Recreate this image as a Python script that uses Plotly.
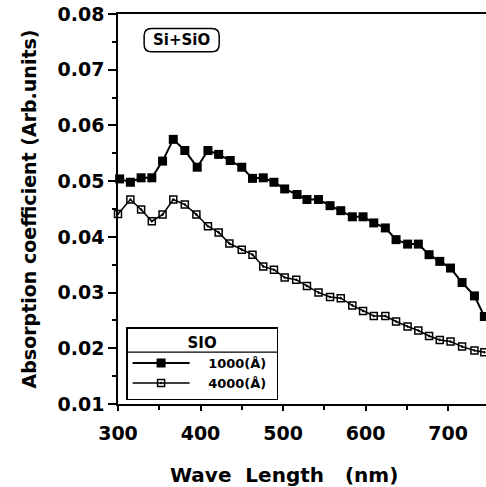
import plotly.graph_objects as go

# ---- data ----
wl_1000 = [302, 315, 328, 341, 354, 367, 381, 396, 409, 422, 436, 450, 463, 476, 489,
           502, 517, 529, 543, 557, 570, 584, 597, 610, 624, 637, 651, 664, 677, 690,
           703, 717, 732, 744]
abs_1000 = [0.0504, 0.0498, 0.0506, 0.0506, 0.0536, 0.0575, 0.0555, 0.0525, 0.0555, 0.0548,
            0.0537, 0.0525, 0.0505, 0.0506, 0.0498, 0.0486, 0.0476, 0.0467, 0.0467, 0.0456,
            0.0447, 0.0436, 0.0436, 0.0425, 0.0416, 0.0395, 0.0387, 0.0387, 0.0368, 0.0356,
            0.0344, 0.0318, 0.0294, 0.0257]

wl_4000 = [300, 315, 328, 341, 354, 367, 381, 395, 409, 422, 435, 450, 463, 476, 489,
           502, 516, 529, 543, 557, 570, 584, 597, 610, 624, 637, 651, 664, 677, 690,
           703, 717, 732, 744]
abs_4000 = [0.0441, 0.0467, 0.0449, 0.0428, 0.0440, 0.0467, 0.0458, 0.0440, 0.0419, 0.0408,
            0.0388, 0.0377, 0.0368, 0.0347, 0.0341, 0.0327, 0.0323, 0.0312, 0.0300, 0.0292,
            0.0290, 0.0277, 0.0267, 0.0258, 0.0258, 0.0248, 0.0239, 0.0232, 0.0222, 0.0215,
            0.0212, 0.0203, 0.0196, 0.0193]

series_names = ["1000(Å)", "4000(Å)"]
legend_title = "SIO"
sample_label = "Si+SiO"
x_title = "Wave\u00a0\u00a0Length\u00a0\u00a0\u00a0(nm)"
y_title = "Absorption coefficient (Arb.units)"
x_ticks = [300, 400, 500, 600, 700]

FONT = "DejaVu Sans"
PAD = "\u00a0\u00a0\u00a0"

fig = go.Figure()
fig.add_trace(go.Scatter(
    x=wl_1000, y=abs_1000, name=PAD + series_names[0] + "\u00a0", mode="lines+markers",
    line=dict(color="black", width=2),
    marker=dict(symbol="square", size=9, color="black"),
    cliponaxis=False,
))
fig.add_trace(go.Scatter(
    x=wl_4000, y=abs_4000, name=PAD + series_names[1] + "\u00a0", mode="lines+markers",
    line=dict(color="black", width=1.5),
    marker=dict(symbol="square-open-dot", size=7, color="black",
                line=dict(width=1.5, color="black")),
    cliponaxis=False,
))

# rounded box around sample label (paper coords)
x0, x1, y0, y1, r = 0.071, 0.275, 0.903, 0.963, 0.02
ry = r * 368 / 390
path = (f"M {x0+r},{y0} L {x1-r},{y0} Q {x1},{y0} {x1},{y0+ry} L {x1},{y1-ry} "
        f"Q {x1},{y1} {x1-r},{y1} L {x0+r},{y1} Q {x0},{y1} {x0},{y1-ry} "
        f"L {x0},{y0+ry} Q {x0},{y0} {x0+r},{y0} Z")
fig.add_shape(type="path", path=path, xref="paper", yref="paper",
              line=dict(color="black", width=1.5))
fig.add_annotation(x=(x0 + x1) / 2, y=(y0 + y1) / 2, xref="paper", yref="paper",
                   xanchor="center", yanchor="middle",
                   text=sample_label, showarrow=False,
                   font=dict(family=FONT, size=15, color="black", weight="bold"))

# x axis title placed as annotation
fig.add_annotation(x=0.452, y=-0.182, xref="paper", yref="paper",
                   xanchor="center", yanchor="middle", showarrow=False,
                   text=x_title,
                   font=dict(family=FONT, size=20, color="black", weight="bold"))

# legend title divider
fig.add_shape(type="line", xref="paper", yref="paper",
              x0=0.022, x1=0.432, y0=0.133, y1=0.133,
              line=dict(color="black", width=1.2))

fig.update_layout(
    width=486, height=487,
    margin=dict(l=118, r=0, t=14, b=83),
    paper_bgcolor="white", plot_bgcolor="white",
    font=dict(family=FONT, color="black"),
    showlegend=True,
    legend=dict(
        x=0.022, y=0.197, xanchor="left", yanchor="top",
        bordercolor="black", borderwidth=1.5, bgcolor="rgba(0,0,0,0)",
        title=dict(text=legend_title, side="top center",
                   font=dict(family=FONT, size=15, weight="bold")),
        font=dict(family=FONT, size=13, weight="bold"),
        itemwidth=57, tracegroupgap=0,
    ),
    xaxis=dict(
        range=[300, 746], tickvals=x_ticks,
        showline=True, linecolor="black", linewidth=1.5, mirror=True,
        ticks="outside", ticklen=5, tickcolor="black", tickwidth=1.5,
        minor=dict(dtick=50, ticks="outside", ticklen=4, tickcolor="black"),
        showgrid=False, zeroline=False,
        tickfont=dict(family=FONT, size=19, weight="bold"),
        ticklabelstandoff=6,
        automargin=False,
    ),
    yaxis=dict(
        range=[0.01, 0.08], dtick=0.01, tickformat=".2f",
        showline=True, linecolor="black", linewidth=1.5,
        ticks="outside", ticklen=8, tickcolor="black", tickwidth=1.5,
        minor=dict(dtick=0.005, ticks="outside", ticklen=4, tickcolor="black"),
        showgrid=False, zeroline=False,
        tickfont=dict(family=FONT, size=19, weight="bold"),
        ticklabeloverflow="allow",
        title=dict(text=y_title, standoff=16,
                   font=dict(family=FONT, size=19, weight="bold")),
        automargin=False,
    ),
)

fig.write_html("out.html", config={"displayModeBar": False},
               post_script="document.body.style.margin='0';")
